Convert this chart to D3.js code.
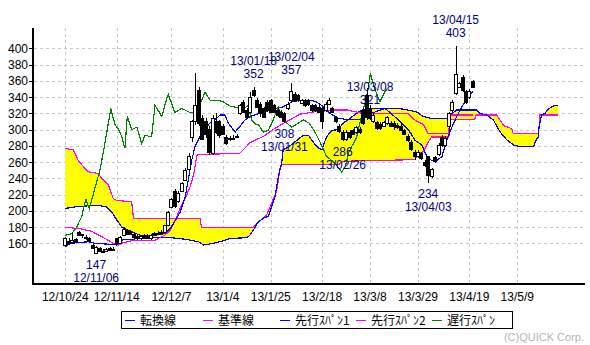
<!DOCTYPE html>
<html>
<head>
<meta charset="utf-8">
<script src="https://cdn.jsdelivr.net/npm/d3@7"></script>
<style>
body{margin:0;background:#fff;}
svg{display:block;font-family:"Liberation Sans",Arial,sans-serif;}
</style>
</head>
<body>
<svg width="590" height="345"></svg>
<script>

// x axis ticks (bar index -> label)
var tickIdx=[0,15,31,46,60,75,89,103,118,132];
var tickLabels=["12/10/24","12/11/14","12/12/7","13/1/4","13/1/25","13/2/18","13/3/8","13/3/29","13/4/19","13/5/9"];
var yTicks=[160,180,200,220,240,260,280,300,320,340,360,380,400];

// daily candles 12/10/24 .. 13/04/22
var opens=[158,163,162,165,174,170,166,166,158,148,154,151,151,154,153,166,160,170,177,175,
172,169,167,170,168,166,172,173,174,174,182,205,225,212,224,238,251,291,310,349,
314,310,301,271,310,310,305,291,288,290,292,320,334,324,322,349,337,332,326,334,
336,330,324,322,320,326,336,344,342,333,336,336,330,330,328,326,324,332,326,315,
305,297,288,297,299,297,301,324,342,326,310,309,307,305,308,308,308,306,305,299,
292,285,273,267,271,260,267,243,266,270,291,281,304,324,345,353,365,347,340,360];
var highs=[168,166,174,167,175,172,170,168,159,157,155,153,154,156,155,167,169,180,178,176,
174,172,170,172,171,171,174,175,176,183,200,216,227,224,236,253,271,312,370,353,
318,314,304,318,320,312,307,293,292,293,294,332,336,326,346,352,339,334,328,336,
338,332,326,324,322,334,357,346,344,338,338,338,332,331,330,328,334,339,328,317,
307,299,299,299,301,305,303,326,351,330,320,311,309,311,317,310,310,308,307,301,
294,287,275,275,273,262,268,253,268,283,293,292,322,336,403,358,367,349,350,361];
var lows=[155,158,160,161,169,167,164,162,153,147,150,149,150,151,151,158,159,169,171,170,
167,164,164,166,165,164,171,171,172,173,181,203,203,210,223,237,249,285,306,304,
287,290,269,269,295,290,293,281,286,287,290,318,320,314,320,340,326,316,314,322,
320,320,316,314,308,324,334,334,334,331,328,329,322,322,320,301,322,330,320,308,
296,286,286,289,293,295,295,306,312,312,308,300,300,303,306,303,300,301,298,293,
285,274,262,265,263,254,234,241,259,268,279,279,296,322,343,351,346,332,338,352];
var closes=[166,161,164,163,170,171,168,163,154,156,151,150,153,152,152,161,168,178,172,171,
168,166,169,167,166,170,173,172,174,182,199,215,206,222,234,250,268,311,330,308,
289,295,273,314,297,293,295,283,290,290,292,330,322,316,340,342,328,320,316,324,
322,322,318,316,310,332,347,336,336,336,330,331,324,324,322,310,332,337,322,310,
298,289,297,291,295,303,297,308,316,314,318,302,302,309,315,305,304,303,300,295,
287,276,267,273,265,256,244,252,261,281,281,290,320,334,369,357,349,334,348,353];

// ichimoku lines, [bar index, value]
var tenkanPts=[[0,156],[1.4,160],[6.8,162],[8.6,160],[12.6,159],[15,158],[15.5,161],[17,165],[20,165],[21.5,169],
[25,169],[29,172],[30.6,178],[32,187],[33.6,199],[35,217],[35.9,238],[36.9,262],[37.9,279],[38.8,287],
[39.8,295],[42.2,308],[43.7,312],[45.2,318],[46.6,318],[47.6,308],[49.6,297],[51,304],[52.5,312],[53.9,316],
[55.4,318],[56.7,320],[60,324],[63.5,328],[66.2,334],[68.6,336],[72,336],[73.4,334],[75.4,328],[77.3,320],
[79.7,314],[83,312],[86,312],[88,318],[92,324],[93.4,326],[97.3,312],[100.2,300],[102.1,287],[104.1,281],
[105.6,267],[107,262],[108.5,262],[110,267],[111.4,287],[112.9,303],[114.3,316],[115.8,328],[116.7,334],[118.2,342],[119,347]];
var kijunPts=[[0,180],[4.3,178],[7.6,175],[11.6,166],[14,160],[15.5,158],[17,161],[20.4,164],[26.2,164],[29,170],
[30.5,175],[31.5,183],[32.5,192],[33.5,203],[35,215],[36.5,230],[37.5,245],[38,258],[38.5,269],[51,271],
[54,284],[58,292],[61,301],[64.7,310],[68.6,319],[73,322],[78.5,324],[82.5,324],[86.6,320],[100,320],
[102,312],[104.6,306],[106,295],[112,295],[112.3,318],[119,318]];
var spanAPts=[[0,203],[3,205],[9,207],[12,205],[13.5,199],[15,189],[16.5,180],[18.4,176],[21.8,170],[26.7,167],
[30.6,167],[33.5,166],[36.4,164],[38.9,162],[40.3,158],[43.2,160],[46.1,163],[48.1,166],[53,167],[53.9,170],
[54.9,176],[56.1,185],[57.8,191],[59.3,193],[59.8,199],[61.2,217],[62.2,242],[63.2,259],[63.6,275],[65.6,280],
[69.5,293],[71,293],[72,287],[73.4,279],[74.9,275],[76.3,291],[77.8,299],[79.7,300],[81.2,308],[85.1,320],
[86.6,324],[89,326],[94,326],[97.5,326],[100,324],[102.5,322],[104.6,316],[106.5,314],[111.5,314],[112.4,318],
[114.3,324],[120.2,324],[121,320],[123,318],[125,312],[127,297],[129,287],[131,281],[133,279],[136.7,279],
[137.5,287],[138.1,291],[138.4,304],[139.1,318],[140.1,320],[141,325],[142.5,329],[144,330]];
var spanBPts=[[0,277],[2.3,275],[3.8,262],[6.2,250],[6.7,248],[9.6,246],[10.6,240],[12.6,232],[14,215],[15,213],
[19.4,211],[19.9,191],[39.3,191],[39.8,180],[54.9,180],[58.8,195],[59.8,205],[61.7,224],[62.7,252],[63.2,257],
[80,257],[81,261],[102,263],[103,270],[104.6,273],[105.5,281],[107,291],[112,291],[112.5,312],[119.5,312],
[120,318],[126,318],[128,305],[130.4,301],[130.8,295],[138.2,295],[138.6,318],[144,318]];
var chikouPts=[[0,170],[1.9,172],[3.3,180],[4.8,193],[6,215],[6.4,209],[7,203],[8.2,221],[10.1,250],[11.4,279],
[13.3,326],[14.5,306],[15.5,301],[16.5,291],[17.4,277],[18.1,316],[19.4,300],[20.9,303],[22.3,283],[23.3,293],
[25.2,291],[26.2,330],[28.2,316],[29.6,338],[30.1,343],[32,321],[34,326],[36.4,321],[38.4,321],[40.8,346],
[42.3,336],[44.7,336],[46.1,334],[48.1,329],[50.1,327],[52,325],[53.4,330],[54.4,312],[55.4,307],[56.4,306],
[57.8,297],[59.3,299],[60.7,312],[62.2,328],[63.2,316],[64.7,308],[66.1,303],[68.1,308],[69.5,312],[71.2,308],
[72.9,297],[73.9,289],[76.3,267],[77.8,262],[78.8,258],[80.7,248],[81.7,254],[82.7,271],[85.1,291],[86.7,320],
[88,340],[89.1,369],[90.4,350],[91.9,334],[93.4,347],[94,350]];

// high / low notes
var noteIdx=[9,55,66,64,81,89,114,106];
var noteVal=[147,352,357,308,286,321,403,234];
var noteDate=["12/11/06","13/01/18","13/02/04","13/01/31","13/02/26","13/03/08","13/04/15","13/04/03"];
var noteHigh=[false,true,true,false,false,true,true,false];

var legendNames=["転換線","基準線","先行ｽﾊﾟﾝ1","先行ｽﾊﾟﾝ2","遅行ｽﾊﾟﾝ"];
var legendColors=["#0000ff","#ff00ff","#0000ff","#ff00ff","#008000"];

var svg=d3.select("svg");
var x=d3.scaleLinear().domain([0,132]).range([65.3,517.3]);
var y=d3.scaleLinear().domain([110,425]).range([284,28]);

function px(v){return Math.round(v)+0.5;}

//grid
var grid=svg.append("g").attr("stroke","#c8c8c8").attr("stroke-dasharray","3,3").attr("shape-rendering","crispEdges");
grid.selectAll(".h").data(yTicks).enter().append("line")
  .attr("x1",34).attr("x2",584)
  .attr("y1",function(d){return px(y(d));}).attr("y2",function(d){return px(y(d));});
grid.selectAll(".v").data(tickIdx).enter().append("line")
  .attr("y1",28).attr("y2",283)
  .attr("x1",function(d){return px(x(d));}).attr("x2",function(d){return px(x(d));});

var line=d3.line().x(function(d){return x(d[0]);}).y(function(d){return y(d[1]);});

//cloud
var cloud=spanAPts.concat(spanBPts.slice().reverse());
svg.append("path").attr("d",line(cloud)+"Z").attr("fill","#ffff00").attr("stroke","none");

var series=[[spanBPts,"#ff00ff"],[spanAPts,"#0000ff"],[kijunPts,"#ff00ff"],[tenkanPts,"#0000ff"],[chikouPts,"#008000"]];
series.forEach(function(s){
  svg.append("path").attr("d",line(s[0])).attr("fill","none")
    .attr("stroke",s[1]).attr("stroke-width",1.2).attr("shape-rendering","crispEdges");
});

//candles
var cg=svg.append("g").attr("shape-rendering","crispEdges");
closes.forEach(function(c,i){
  var cx=Math.round(x(i));
  var o=opens[i];
  cg.append("line").attr("x1",cx+0.5).attr("x2",cx+0.5)
    .attr("y1",y(highs[i])).attr("y2",y(lows[i])).attr("stroke","#000");
  var top=Math.round(y(Math.max(o,c))),bot=Math.round(y(Math.min(o,c)));
  if(bot-top<1) bot=top+1;
  cg.append("rect").attr("x",cx-1.5).attr("y",top+0.5).attr("width",3).attr("height",bot-top)
    .attr("fill",c>=o?"#fff":"#000").attr("stroke","#000");
});

//axes
svg.append("rect").attr("x",32).attr("y",28).attr("width",2).attr("height",257).attr("fill","#000");
svg.append("rect").attr("x",32).attr("y",283).attr("width",553).attr("height",2).attr("fill","#000");
svg.selectAll(".yt").data(yTicks).enter().append("line")
  .attr("x1",29).attr("x2",32).attr("shape-rendering","crispEdges").attr("stroke","#000")
  .attr("y1",function(d){return px(y(d));}).attr("y2",function(d){return px(y(d));});
svg.selectAll(".yl").data(yTicks).enter().append("text")
  .attr("x",28).attr("y",function(d){return y(d)+4.5;})
  .attr("text-anchor","end").style("font-size","12px").text(function(d){return d;});
svg.selectAll(".xl").data(tickIdx).enter().append("text")
  .attr("x",function(d){return x(d);}).attr("y",301)
  .attr("text-anchor","middle").style("font-size","12px")
  .text(function(d,i){return tickLabels[i];});

//notes
noteIdx.forEach(function(n,i){
  var vy=y(noteVal[i]);
  var a=noteHigh[i]?[vy-9,vy-22]:[vy+15,vy+28];
  svg.append("text").attr("x",x(n)).attr("y",a[0]).attr("text-anchor","middle")
    .attr("fill","#000080").style("font-size","12px").text(noteVal[i]);
  svg.append("text").attr("x",x(n)).attr("y",a[1]).attr("text-anchor","middle")
    .attr("fill","#000080").style("font-size","12px").text(noteDate[i]);
});

//legend
svg.append("rect").attr("x",121.5).attr("y",311.5).attr("width",391).attr("height",17)
  .attr("fill","#fff").attr("stroke","#000");
var lx=[125,203,280,356,432];
legendNames.forEach(function(nm,i){
  svg.append("line").attr("x1",lx[i]).attr("x2",lx[i]+10).attr("y1",320.5).attr("y2",320.5)
    .attr("stroke",legendColors[i]).attr("shape-rendering","crispEdges");
  svg.append("text").attr("x",lx[i]+15).attr("y",325)
    .style("font-family","'Noto Sans CJK JP',sans-serif").style("font-size","12px").text(nm);
});

svg.append("text").attr("x",584).attr("y",341).attr("text-anchor","end")
  .attr("fill","#b4b4b4").style("font-size","11px").text("(C)QUICK Corp.");

</script>
</body>
</html>
